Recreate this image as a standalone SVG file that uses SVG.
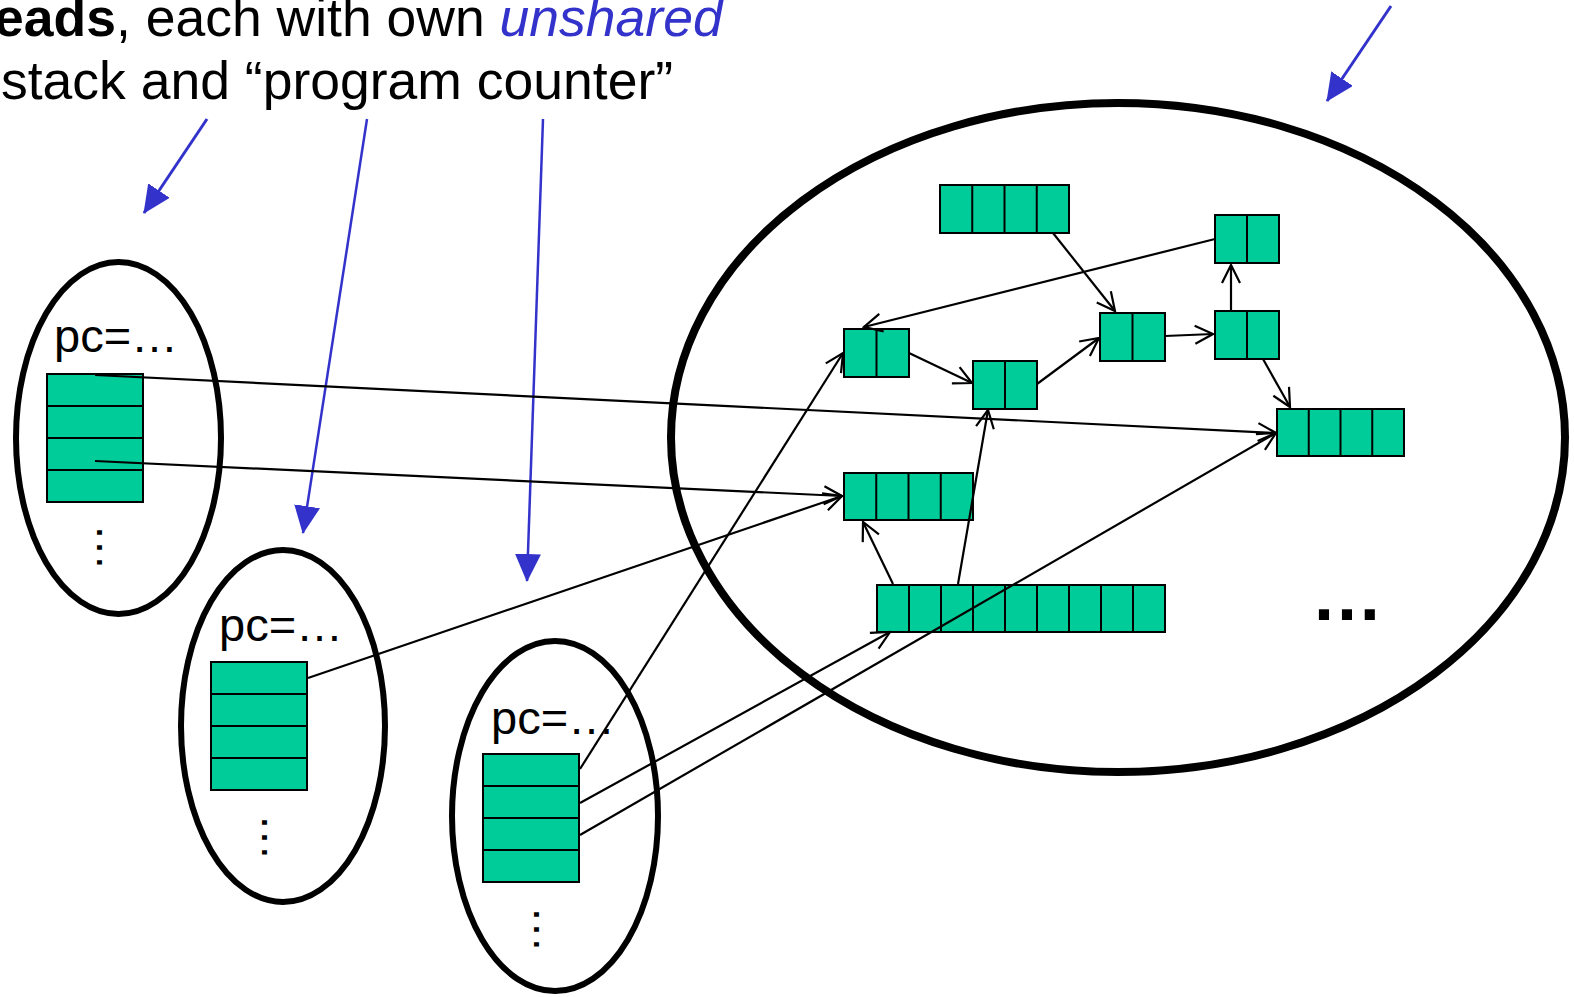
<svg xmlns="http://www.w3.org/2000/svg" width="1574" height="997" viewBox="0 0 1574 997">
<defs>
<style>
.t{font-family:"Liberation Sans",Arial,sans-serif;fill:#000}
.cell{fill:#00CC99;stroke:#000;stroke-width:2}
.div{stroke:#000;stroke-width:2}
.oval{fill:none;stroke:#000;stroke-width:6}
.con{fill:none;stroke:#000;stroke-width:2.2;marker-end:url(#open)}
.blue{fill:none;stroke:#3333CC;marker-end:url(#tri)}
</style>
<marker id="open" markerUnits="userSpaceOnUse" viewBox="-21 -11 23 22" refX="0" refY="0" markerWidth="23" markerHeight="22" orient="auto">
<path d="M-18,-9 L0,0 L-18,9" fill="none" stroke="#000" stroke-width="2.2"/>
</marker>
<marker id="tri" markerUnits="userSpaceOnUse" viewBox="0 0 28 26" refX="27" refY="13" markerWidth="28" markerHeight="26" orient="auto">
<path d="M0,0 L28,13 L0,26 z" fill="#3333CC"/>
</marker>
</defs>
<rect width="1574" height="997" fill="#fff"/>

<g id="title" class="t" font-size="53.5">
<text x="-6" y="36"><tspan font-weight="bold">eads</tspan>, each with own <tspan font-style="italic" fill="#3333CC">unshared</tspan></text>
<text x="1" y="99">stack and “program counter”</text>
</g>

<g id="blue-arrows">
<line class="blue" stroke-width="3" x1="207" y1="119" x2="144" y2="213"/>
<line class="blue" stroke-width="2.5" x1="367" y1="119" x2="303" y2="533"/>
<line class="blue" stroke-width="2.5" x1="543" y1="119" x2="527" y2="581"/>
<line class="blue" stroke-width="3" x1="1391" y1="6" x2="1327" y2="101"/>
</g>

<g id="heap">
<ellipse cx="1118" cy="437.5" rx="447" ry="334.5" fill="none" stroke="#000" stroke-width="8"/>
<text class="t" x="1311" y="620" font-size="72" font-weight="bold">…</text>
</g>

<g id="thread1">
<ellipse class="oval" cx="118.5" cy="438" rx="102.5" ry="176"/>
<text class="t" x="54" y="352" font-size="47">pc=…</text>
<rect class="cell" x="47" y="374" width="96" height="128"/>
<line class="div" x1="47" y1="406" x2="143" y2="406"/>
<line class="div" x1="47" y1="438" x2="143" y2="438"/>
<line class="div" x1="47" y1="470" x2="143" y2="470"/>
<text class="t" font-size="47" transform="translate(97,524) rotate(90)">…</text>
</g>

<g id="thread2">
<ellipse class="oval" cx="283" cy="726" rx="102" ry="176"/>
<text class="t" x="219" y="641" font-size="47">pc=…</text>
<rect class="cell" x="211" y="662" width="96" height="128"/>
<line class="div" x1="211" y1="694" x2="307" y2="694"/>
<line class="div" x1="211" y1="726" x2="307" y2="726"/>
<line class="div" x1="211" y1="758" x2="307" y2="758"/>
<text class="t" font-size="47" transform="translate(262,814) rotate(90)">…</text>
</g>

<g id="thread3">
<ellipse class="oval" cx="555" cy="816" rx="103" ry="175"/>
<text class="t" x="491" y="734" font-size="47">pc=…</text>
<rect class="cell" x="483" y="754" width="96" height="128"/>
<line class="div" x1="483" y1="786" x2="579" y2="786"/>
<line class="div" x1="483" y1="818" x2="579" y2="818"/>
<line class="div" x1="483" y1="850" x2="579" y2="850"/>
<text class="t" font-size="47" transform="translate(534,906) rotate(90)">…</text>
</g>

<g id="obj-top4">
<rect class="cell" x="940" y="185" width="129" height="48"/>
<path class="div" d="M972.25,185V233M1004.5,185V233M1036.75,185V233"/>
</g>
<g id="obj-tr2">
<rect class="cell" x="1215" y="215" width="64" height="48"/>
<path class="div" d="M1247,215V263"/>
</g>
<g id="obj-a">
<rect class="cell" x="844" y="329" width="65" height="48"/>
<path class="div" d="M876.5,329V377"/>
</g>
<g id="obj-b">
<rect class="cell" x="973" y="361" width="64" height="48"/>
<path class="div" d="M1005,361V409"/>
</g>
<g id="obj-c">
<rect class="cell" x="1100" y="313" width="65" height="48"/>
<path class="div" d="M1132.5,313V361"/>
</g>
<g id="obj-d">
<rect class="cell" x="1215" y="311" width="64" height="48"/>
<path class="div" d="M1247,311V359"/>
</g>
<g id="obj-r4">
<rect class="cell" x="1277" y="409" width="127" height="47"/>
<path class="div" d="M1308.75,409V456M1340.5,409V456M1372.25,409V456"/>
</g>
<g id="obj-m4">
<rect class="cell" x="844" y="473" width="129" height="47"/>
<path class="div" d="M876.25,473V520M908.5,473V520M940.75,473V520"/>
</g>
<g id="obj-long9">
<rect class="cell" x="877" y="585" width="288" height="47"/>
<path class="div" d="M909,585V632M941,585V632M973,585V632M1005,585V632M1037,585V632M1069,585V632M1101,585V632M1133,585V632"/>
</g>

<g id="connectors">
<line class="con" x1="1053" y1="233" x2="1115" y2="311"/>
<line class="con" x1="1215" y1="239" x2="864" y2="327"/>
<line class="con" x1="909" y1="353" x2="972" y2="383"/>
<line class="con" x1="1037" y1="384" x2="1099" y2="338"/>
<line class="con" x1="1165" y1="336" x2="1213" y2="334"/>
<line class="con" x1="1231" y1="311" x2="1231" y2="265"/>
<line class="con" x1="1263" y1="359" x2="1290" y2="407"/>
<line class="con" x1="95" y1="375" x2="1276" y2="433"/>
<line class="con" x1="95" y1="461" x2="842" y2="496"/>
<line class="con" x1="308" y1="678" x2="842" y2="496"/>
<line class="con" x1="580" y1="769" x2="843" y2="353"/>
<line class="con" x1="580" y1="803" x2="890" y2="632"/>
<line class="con" x1="580" y1="835" x2="1276" y2="433"/>
<line class="con" x1="893" y1="584" x2="863" y2="522"/>
<line class="con" x1="958" y1="584" x2="988" y2="410"/>
</g>
</svg>
